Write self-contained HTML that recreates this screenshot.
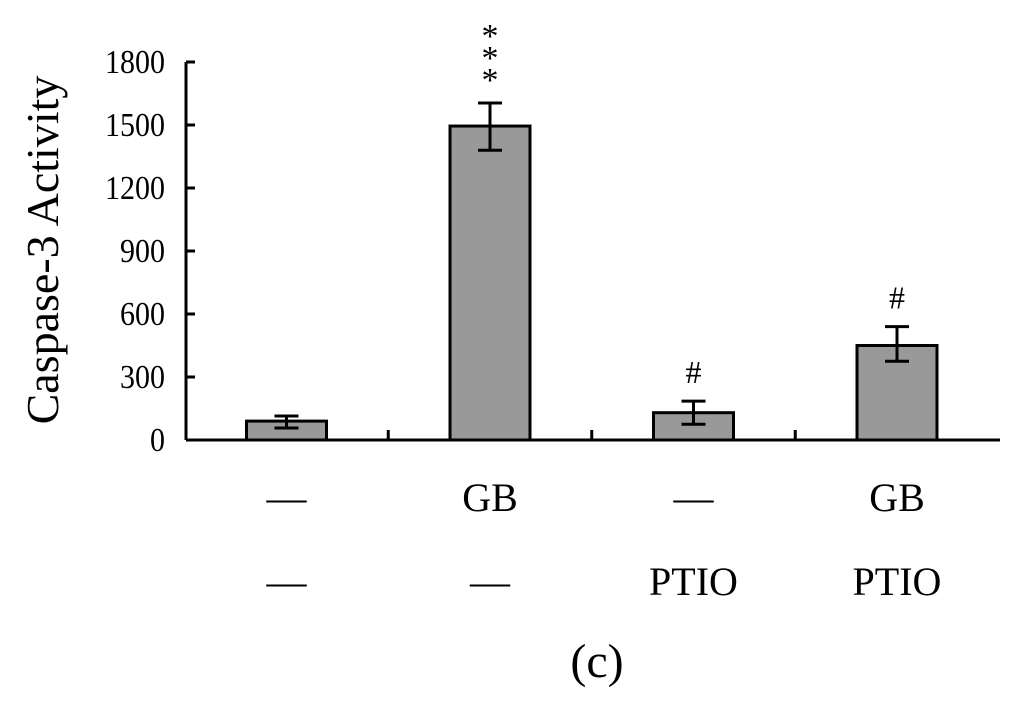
<!DOCTYPE html>
<html><head><meta charset="utf-8"><style>
body{margin:0;background:#fff}
svg text{font-family:"Liberation Serif",serif;fill:#000}
</style></head><body>
<svg width="1024" height="710" id="c"></svg>
<script>
const categories=["Control","GB","PTIO","GB+PTIO"];
const values=[90,1495,130,450];
const errLow=[57,1380,75,375];
const errHigh=[114,1605,185,540];
const yTicks=[0,300,600,900,1200,1500,1800];
const row1=["—","GB","—","GB"];
const row2=["—","—","PTIO","PTIO"];
const marks=["","***","#","#"];
const NS="http://www.w3.org/2000/svg";
const svg=document.getElementById('c');
const x0=186,x1=1000,y0=440,yMax=1800,yTop=62;
const y=v=>y0-(v/yMax)*(y0-yTop);
const step=203.5;
const xc=i=>286.5+step*i;
function el(t,a,txt){const e=document.createElementNS(NS,t);for(const k in a)e.setAttribute(k,a[k]);if(txt!==undefined)e.textContent=txt;svg.appendChild(e);return e;}
let e;
e=el('line',{x1:x0,y1:y0,x2:x1,y2:y0,stroke:'#000','stroke-width':3});


e=el('line',{x1:x0,y1:yTop,x2:x0,y2:y0,stroke:'#000','stroke-width':3});


yTicks.forEach(t=>{
 e=el('line',{x1:x0,y1:y(t),x2:x0+9,y2:y(t),stroke:'#000','stroke-width':3});
 
 
 e=el('text',{x:0,y:0,transform:`translate(165,${y(t)+11}) scale(1,1.12)`,'text-anchor':'end','font-size':30},t);
 
 
});
for(let i=1;i<categories.length;i++){
 const tx=xc(i)-step/2;
 e=el('line',{x1:tx,y1:y0,x2:tx,y2:y0-10,stroke:'#000','stroke-width':3});
 
 
}
categories.forEach((c,i)=>{
 const cx=xc(i),w=80;
 e=el('rect',{x:cx-w/2,y:y(values[i]),width:w,height:y0-y(values[i]),fill:'#999',stroke:'#000','stroke-width':3});
 
 
 e=el('path',{d:`M${cx},${y(errLow[i])}V${y(errHigh[i])}M${cx-12},${y(errLow[i])}h24M${cx-12},${y(errHigh[i])}h24`,stroke:'#000','stroke-width':3,fill:'none'});
 
 
 const m=marks[i];
 if(m.startsWith('*')){
  [0,1,2].forEach(k=>{e=el('text',{x:cx,y:47+k*22,'text-anchor':'middle','font-size':34},'*');
  
  });
 } else if(m){
  e=el('text',{x:cx,y:y(errHigh[i])-18,'text-anchor':'middle','font-size':32},m);
  
  
 }
 e=el('text',{x:cx,y:511,'text-anchor':'middle','font-size':40},row1[i]);
 
 
 e=el('text',{x:cx,y:595,'text-anchor':'middle','font-size':40},row2[i]);
 
 
});
e=el('text',{x:0,y:0,transform:'translate(58,250) rotate(-90)','text-anchor':'middle','font-size':46},'Caspase-3 Activity');


e=el('text',{x:597,y:677,'text-anchor':'middle','font-size':48},'(c)');


</script>
</body></html>
